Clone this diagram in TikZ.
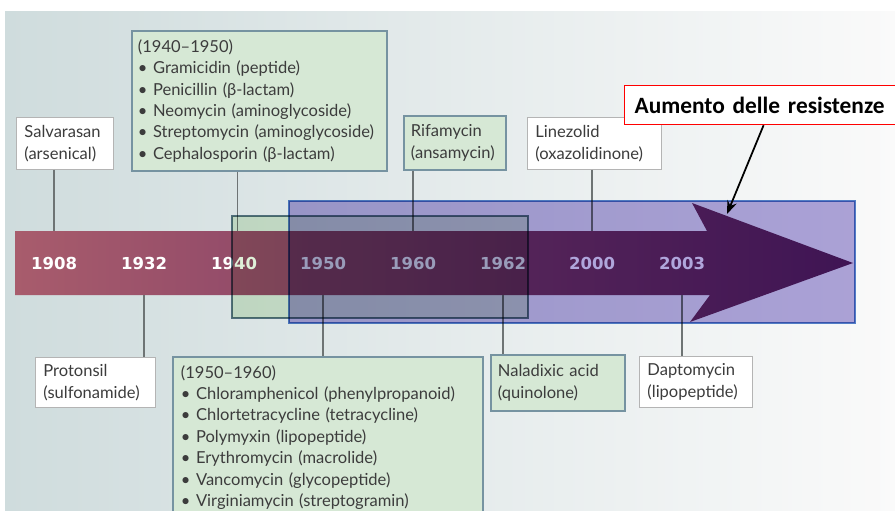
\documentclass[tikz,border=0pt]{standalone}
\usepackage{fontspec}
\setmainfont{Lato}
\newfontfamily\yearfont{DejaVu Sans}
\newfontfamily\calloutfont{Carlito}
\usetikzlibrary{arrows.meta,positioning,shadows}

\definecolor{bgleft}{HTML}{CFDCDD}
\definecolor{bgright}{HTML}{FAFAFA}
\definecolor{barrose}{HTML}{A85C6C}
\definecolor{barmid}{HTML}{76417F}
\definecolor{barpurple}{HTML}{5C2062}
\definecolor{overblue}{HTML}{B0A6DC}
\definecolor{overblueedge}{HTML}{5582CC}
\definecolor{overgreen}{HTML}{DFF0D8}
\definecolor{overgreenedge}{HTML}{5E7C8A}
\definecolor{boxgreen}{HTML}{D6E8D5}
\definecolor{boxgreenedge}{HTML}{7693A1}
\definecolor{boxgray}{HTML}{B4B4B4}
\definecolor{linegray}{HTML}{6E7474}
\definecolor{textgray}{HTML}{3C3C3C}

\begin{document}
\begin{tikzpicture}[x=0.02cm,y=-0.02cm,>=Stealth,
    yearlbl/.style={font=\yearfont\bfseries\fontsize{9.4}{10}\selectfont,text=white,inner sep=0pt},
    whitebox/.style={anchor=north west,draw=boxgray,line width=0.5pt,fill=white,align=left,
        font=\fontsize{9.4}{12.2}\selectfont,text=textgray,inner xsep=0.16cm,inner ysep=0pt},
    greenbox/.style={whitebox,draw=boxgreenedge,line width=1.1pt,fill=boxgreen,
        drop shadow={shadow xshift=0.8pt,shadow yshift=-0.8pt,opacity=0.3,fill=gray}},
    stem/.style={draw=linegray,line width=0.6pt},
    calloutbox/.style={anchor=north west,draw=red,line width=0.7pt,fill=white,align=left,
        font=\calloutfont\bfseries\fontsize{13.3}{15}\selectfont,inner xsep=0.2cm,inner ysep=0pt}]

    \useasboundingbox (0,0) rectangle (895,510);
    \clip (0,0) rectangle (895,510);

    % --- background ---
    \fill[white] (0,0) rectangle (895,510);
    \shade[left color=bgleft,right color=bgright] (5,12) rectangle (895,510);

    % --- timeline arrow ---
    \coordinate (bartop) at (0,231);
    \coordinate (barbot) at (0,295);
    \shade[left color=barrose,middle color=barmid,right color=barpurple]
        (15,231) -- (707,231) -- (692,203) -- (853,263) -- (690,322) -- (710,295) -- (15,295) -- cycle;

    % years
    \node[yearlbl] (y1908) at (54,263) {1908};
    \node[yearlbl] (y1932) at (144,263) {1932};
    \node[yearlbl] (y1940) at (234,263) {1940};
    \node[yearlbl] (y1950) at (323,263) {1950};
    \node[yearlbl] (y1960) at (413,263) {1960};
    \node[yearlbl] (y1962) at (503,263) {1962};
    \node[yearlbl] (y2000) at (592,263) {2000};
    \node[yearlbl] (y2003) at (682,263) {2003};

    % --- boxes above ---
    \node[whitebox,text width=1.62cm,minimum height=1.04cm] (salv) at (16,117) {Salvarasan\\(arsenical)};
    \node[greenbox,inner xsep=0.12cm,text width=4.86cm,minimum height=2.80cm] (dec40) at (131,30)
        {(1940–1950)\\• Gramicidin (peptide)\\• Penicillin (β-lactam)\\• Neomycin (aminoglycoside)\\• Streptomycin (aminoglycoside)\\• Cephalosporin (β-lactam)};
    \node[greenbox,inner xsep=0.14cm,text width=1.76cm,minimum height=1.08cm] (rifa) at (403,115) {Rifamycin\\(ansamycin)};
    \node[whitebox,text width=2.36cm,minimum height=1.04cm] (line) at (527,117) {Linezolid\\(oxazolidinone)};

    % --- boxes below ---
    \node[whitebox,text width=2.08cm,minimum height=1.00cm] (prot) at (35,357) {Protonsil\\(sulfonamide)};
    \node[greenbox,text width=5.88cm,minimum height=3.22cm] (dec50) at (172,356)
        {(1950–1960)\\• Chloramphenicol (phenylpropanoid)\\• Chlortetracycline (tetracycline)\\• Polymyxin (lipopeptide)\\• Erythromycin (macrolide)\\• Vancomycin (glycopeptide)\\• Virginiamycin (streptogramin)};
    \node[greenbox,inner xsep=0.14cm,text width=2.40cm,minimum height=1.12cm] (nala) at (490,354) {Naladixic acid\\(quinolone)};
    \node[whitebox,text width=1.94cm,minimum height=1.02cm] (dapt) at (639,356) {Daptomycin\\(lipopeptide)};

    % stems
    \draw[stem] (salv.south -| y1908) -- (y1908 |- bartop);
    \draw[stem] ([xshift=0.07cm]dec40.south -| y1940) -- ([xshift=0.07cm]y1940 |- bartop);
    \draw[stem] (rifa.south -| y1960) -- (y1960 |- bartop);
    \draw[stem] (line.south -| y2000) -- (y2000 |- bartop);
    \draw[stem] (y1932 |- barbot) -- (prot.north -| y1932);
    \draw[stem] (y1950 |- barbot) -- (dec50.north -| y1950);
    \draw[stem] (y1962 |- barbot) -- (nala.north -| y1962);
    \draw[stem] (y2003 |- barbot) -- (dapt.north -| y2003);

    % --- overlays ---
    \filldraw[blend mode=multiply,fill=overgreen,draw=overgreenedge,line width=0.8pt] (232,216) rectangle (528,318);
    \filldraw[blend mode=multiply,fill=overblue,draw=overblueedge,line width=0.8pt] (289,201) rectangle (855,323);

    % --- callout ---
    \node[calloutbox,text width=5.4cm,minimum height=0.78cm] (callout) at (624,85) {Aumento delle resistenze};
    \coordinate (hit) at (727,214);
    \draw[->,line width=1pt] ([xshift=-0.12cm]callout.south) -- (hit);

\end{tikzpicture}
\end{document}
